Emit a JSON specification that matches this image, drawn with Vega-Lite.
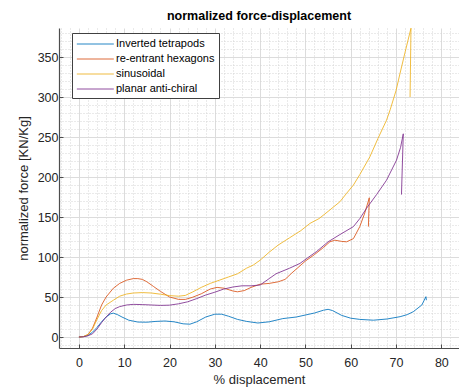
{
  "$schema": "https://vega.github.io/schema/vega-lite/v6.json",
  "width": 400,
  "height": 320,
  "autosize": {"type": "none"},
  "padding": {"left": 59, "top": 28, "right": 0, "bottom": 39},
  "background": "white",
  "title": {"text": "normalized force-displacement", "font": "Liberation Sans", "fontSize": 12.5, "fontWeight": "bold", "color": "#000000", "anchor": "middle", "offset": 6},
  "config": {
    "view": {"stroke": null},
    "font": "Liberation Sans",
    "axis": {"labelFont": "Liberation Sans", "titleFont": "Liberation Sans", "labelColor": "#262626", "titleColor": "#262626", "domainColor": "#4d4d4d", "tickColor": "#4d4d4d", "titleFontWeight": "normal"}
  },
  "data": {"values": [
    {"s":"Inverted tetrapods","i":1,"x":0,"y":0},
    {"s":"Inverted tetrapods","i":2,"x":1,"y":0.5},
    {"s":"Inverted tetrapods","i":3,"x":2,"y":2},
    {"s":"Inverted tetrapods","i":4,"x":3,"y":6},
    {"s":"Inverted tetrapods","i":5,"x":4,"y":12},
    {"s":"Inverted tetrapods","i":6,"x":5,"y":19},
    {"s":"Inverted tetrapods","i":7,"x":6,"y":25},
    {"s":"Inverted tetrapods","i":8,"x":7,"y":29},
    {"s":"Inverted tetrapods","i":9,"x":7.6,"y":29.8},
    {"s":"Inverted tetrapods","i":10,"x":8.5,"y":28},
    {"s":"Inverted tetrapods","i":11,"x":9.5,"y":25},
    {"s":"Inverted tetrapods","i":12,"x":11,"y":21},
    {"s":"Inverted tetrapods","i":13,"x":13,"y":18.7},
    {"s":"Inverted tetrapods","i":14,"x":15,"y":18.5},
    {"s":"Inverted tetrapods","i":15,"x":17,"y":19.5},
    {"s":"Inverted tetrapods","i":16,"x":19,"y":20},
    {"s":"Inverted tetrapods","i":17,"x":21,"y":19},
    {"s":"Inverted tetrapods","i":18,"x":23,"y":16.5},
    {"s":"Inverted tetrapods","i":19,"x":24.5,"y":16},
    {"s":"Inverted tetrapods","i":20,"x":26,"y":19},
    {"s":"Inverted tetrapods","i":21,"x":28,"y":25},
    {"s":"Inverted tetrapods","i":22,"x":30,"y":28.5},
    {"s":"Inverted tetrapods","i":23,"x":31.5,"y":28.5},
    {"s":"Inverted tetrapods","i":24,"x":33,"y":26},
    {"s":"Inverted tetrapods","i":25,"x":35,"y":22},
    {"s":"Inverted tetrapods","i":26,"x":37,"y":19.5},
    {"s":"Inverted tetrapods","i":27,"x":39.5,"y":17.5},
    {"s":"Inverted tetrapods","i":28,"x":42,"y":19},
    {"s":"Inverted tetrapods","i":29,"x":45,"y":23},
    {"s":"Inverted tetrapods","i":30,"x":48,"y":25},
    {"s":"Inverted tetrapods","i":31,"x":50,"y":27.5},
    {"s":"Inverted tetrapods","i":32,"x":52,"y":30},
    {"s":"Inverted tetrapods","i":33,"x":54,"y":33.5},
    {"s":"Inverted tetrapods","i":34,"x":55,"y":34.6},
    {"s":"Inverted tetrapods","i":35,"x":56,"y":33},
    {"s":"Inverted tetrapods","i":36,"x":58,"y":27},
    {"s":"Inverted tetrapods","i":37,"x":60,"y":23.5},
    {"s":"Inverted tetrapods","i":38,"x":62,"y":22},
    {"s":"Inverted tetrapods","i":39,"x":65,"y":21},
    {"s":"Inverted tetrapods","i":40,"x":68,"y":22.5},
    {"s":"Inverted tetrapods","i":41,"x":70.9,"y":25.4},
    {"s":"Inverted tetrapods","i":42,"x":72.5,"y":28},
    {"s":"Inverted tetrapods","i":43,"x":73.8,"y":31.6},
    {"s":"Inverted tetrapods","i":44,"x":75.7,"y":40},
    {"s":"Inverted tetrapods","i":45,"x":76.6,"y":50.4},
    {"s":"Inverted tetrapods","i":46,"x":76.7,"y":46},
    {"s":"re-entrant hexagons","i":1,"x":0,"y":0},
    {"s":"re-entrant hexagons","i":2,"x":1,"y":0.5},
    {"s":"re-entrant hexagons","i":3,"x":2,"y":3},
    {"s":"re-entrant hexagons","i":4,"x":3,"y":11},
    {"s":"re-entrant hexagons","i":5,"x":4,"y":25},
    {"s":"re-entrant hexagons","i":6,"x":5,"y":40},
    {"s":"re-entrant hexagons","i":7,"x":6,"y":50},
    {"s":"re-entrant hexagons","i":8,"x":7.6,"y":61},
    {"s":"re-entrant hexagons","i":9,"x":9,"y":67},
    {"s":"re-entrant hexagons","i":10,"x":10.5,"y":71},
    {"s":"re-entrant hexagons","i":11,"x":12,"y":73},
    {"s":"re-entrant hexagons","i":12,"x":13,"y":73},
    {"s":"re-entrant hexagons","i":13,"x":14,"y":72},
    {"s":"re-entrant hexagons","i":14,"x":15,"y":69},
    {"s":"re-entrant hexagons","i":15,"x":16.5,"y":63},
    {"s":"re-entrant hexagons","i":16,"x":18,"y":57},
    {"s":"re-entrant hexagons","i":17,"x":20,"y":50},
    {"s":"re-entrant hexagons","i":18,"x":22,"y":47},
    {"s":"re-entrant hexagons","i":19,"x":23.5,"y":47},
    {"s":"re-entrant hexagons","i":20,"x":25,"y":49.5},
    {"s":"re-entrant hexagons","i":21,"x":27,"y":54},
    {"s":"re-entrant hexagons","i":22,"x":29,"y":60},
    {"s":"re-entrant hexagons","i":23,"x":30.5,"y":62},
    {"s":"re-entrant hexagons","i":24,"x":32,"y":61},
    {"s":"re-entrant hexagons","i":25,"x":34,"y":57.5},
    {"s":"re-entrant hexagons","i":26,"x":35,"y":56.5},
    {"s":"re-entrant hexagons","i":27,"x":36.5,"y":58},
    {"s":"re-entrant hexagons","i":28,"x":38,"y":62},
    {"s":"re-entrant hexagons","i":29,"x":40,"y":66},
    {"s":"re-entrant hexagons","i":30,"x":42,"y":67},
    {"s":"re-entrant hexagons","i":31,"x":44,"y":69},
    {"s":"re-entrant hexagons","i":32,"x":45.5,"y":72},
    {"s":"re-entrant hexagons","i":33,"x":47,"y":80},
    {"s":"re-entrant hexagons","i":34,"x":50,"y":95},
    {"s":"re-entrant hexagons","i":35,"x":52,"y":103},
    {"s":"re-entrant hexagons","i":36,"x":54,"y":112},
    {"s":"re-entrant hexagons","i":37,"x":55.4,"y":119},
    {"s":"re-entrant hexagons","i":38,"x":56.5,"y":121},
    {"s":"re-entrant hexagons","i":39,"x":58,"y":119.5},
    {"s":"re-entrant hexagons","i":40,"x":59.1,"y":119},
    {"s":"re-entrant hexagons","i":41,"x":60.6,"y":123},
    {"s":"re-entrant hexagons","i":42,"x":62,"y":138},
    {"s":"re-entrant hexagons","i":43,"x":63.1,"y":155},
    {"s":"re-entrant hexagons","i":44,"x":64.1,"y":174},
    {"s":"re-entrant hexagons","i":45,"x":63.9,"y":138},
    {"s":"sinusoidal","i":1,"x":0,"y":0},
    {"s":"sinusoidal","i":2,"x":1,"y":0.5},
    {"s":"sinusoidal","i":3,"x":2,"y":3},
    {"s":"sinusoidal","i":4,"x":3,"y":10},
    {"s":"sinusoidal","i":5,"x":4,"y":22},
    {"s":"sinusoidal","i":6,"x":5,"y":33},
    {"s":"sinusoidal","i":7,"x":6,"y":40},
    {"s":"sinusoidal","i":8,"x":7.6,"y":46},
    {"s":"sinusoidal","i":9,"x":9,"y":51},
    {"s":"sinusoidal","i":10,"x":10.5,"y":53.7},
    {"s":"sinusoidal","i":11,"x":12,"y":55},
    {"s":"sinusoidal","i":12,"x":14,"y":55.5},
    {"s":"sinusoidal","i":13,"x":16,"y":55},
    {"s":"sinusoidal","i":14,"x":18,"y":53.5},
    {"s":"sinusoidal","i":15,"x":20,"y":51.7},
    {"s":"sinusoidal","i":16,"x":22,"y":51},
    {"s":"sinusoidal","i":17,"x":23.5,"y":52},
    {"s":"sinusoidal","i":18,"x":25,"y":56},
    {"s":"sinusoidal","i":19,"x":27,"y":62},
    {"s":"sinusoidal","i":20,"x":29,"y":67},
    {"s":"sinusoidal","i":21,"x":31,"y":71},
    {"s":"sinusoidal","i":22,"x":33,"y":75},
    {"s":"sinusoidal","i":23,"x":35,"y":79},
    {"s":"sinusoidal","i":24,"x":37,"y":86},
    {"s":"sinusoidal","i":25,"x":38.5,"y":90},
    {"s":"sinusoidal","i":26,"x":40,"y":96},
    {"s":"sinusoidal","i":27,"x":42,"y":106},
    {"s":"sinusoidal","i":28,"x":44,"y":115},
    {"s":"sinusoidal","i":29,"x":46.5,"y":124},
    {"s":"sinusoidal","i":30,"x":49,"y":133},
    {"s":"sinusoidal","i":31,"x":51,"y":142},
    {"s":"sinusoidal","i":32,"x":53,"y":148},
    {"s":"sinusoidal","i":33,"x":55,"y":157},
    {"s":"sinusoidal","i":34,"x":57.6,"y":169},
    {"s":"sinusoidal","i":35,"x":59,"y":179},
    {"s":"sinusoidal","i":36,"x":60.6,"y":190},
    {"s":"sinusoidal","i":37,"x":62,"y":203},
    {"s":"sinusoidal","i":38,"x":64.2,"y":225},
    {"s":"sinusoidal","i":39,"x":66,"y":248},
    {"s":"sinusoidal","i":40,"x":67.9,"y":271},
    {"s":"sinusoidal","i":41,"x":68.7,"y":284},
    {"s":"sinusoidal","i":42,"x":70,"y":308},
    {"s":"sinusoidal","i":43,"x":70.9,"y":330},
    {"s":"sinusoidal","i":44,"x":72,"y":356},
    {"s":"sinusoidal","i":45,"x":73.3,"y":386},
    {"s":"sinusoidal","i":46,"x":73.1,"y":300},
    {"s":"planar anti-chiral","i":1,"x":0,"y":0},
    {"s":"planar anti-chiral","i":2,"x":1,"y":0.3},
    {"s":"planar anti-chiral","i":3,"x":2,"y":1.5},
    {"s":"planar anti-chiral","i":4,"x":3,"y":4},
    {"s":"planar anti-chiral","i":5,"x":4,"y":10},
    {"s":"planar anti-chiral","i":6,"x":5,"y":18},
    {"s":"planar anti-chiral","i":7,"x":6,"y":25},
    {"s":"planar anti-chiral","i":8,"x":7,"y":31},
    {"s":"planar anti-chiral","i":9,"x":8,"y":35.5},
    {"s":"planar anti-chiral","i":10,"x":9,"y":38},
    {"s":"planar anti-chiral","i":11,"x":10.5,"y":40},
    {"s":"planar anti-chiral","i":12,"x":12,"y":40.8},
    {"s":"planar anti-chiral","i":13,"x":14,"y":40.5},
    {"s":"planar anti-chiral","i":14,"x":16,"y":40},
    {"s":"planar anti-chiral","i":15,"x":18,"y":39.5},
    {"s":"planar anti-chiral","i":16,"x":20,"y":39.8},
    {"s":"planar anti-chiral","i":17,"x":22,"y":41.5},
    {"s":"planar anti-chiral","i":18,"x":24,"y":44},
    {"s":"planar anti-chiral","i":19,"x":26,"y":48},
    {"s":"planar anti-chiral","i":20,"x":28,"y":52.5},
    {"s":"planar anti-chiral","i":21,"x":30,"y":56},
    {"s":"planar anti-chiral","i":22,"x":32,"y":60},
    {"s":"planar anti-chiral","i":23,"x":34,"y":62.5},
    {"s":"planar anti-chiral","i":24,"x":36,"y":64},
    {"s":"planar anti-chiral","i":25,"x":38,"y":64},
    {"s":"planar anti-chiral","i":26,"x":40,"y":65},
    {"s":"planar anti-chiral","i":27,"x":42,"y":73},
    {"s":"planar anti-chiral","i":28,"x":43.5,"y":79},
    {"s":"planar anti-chiral","i":29,"x":46.5,"y":86},
    {"s":"planar anti-chiral","i":30,"x":48.8,"y":92},
    {"s":"planar anti-chiral","i":31,"x":50.5,"y":99},
    {"s":"planar anti-chiral","i":32,"x":52.5,"y":107},
    {"s":"planar anti-chiral","i":33,"x":55,"y":119},
    {"s":"planar anti-chiral","i":34,"x":57.6,"y":128},
    {"s":"planar anti-chiral","i":35,"x":60.6,"y":138},
    {"s":"planar anti-chiral","i":36,"x":62,"y":148},
    {"s":"planar anti-chiral","i":37,"x":63.5,"y":161},
    {"s":"planar anti-chiral","i":38,"x":65.7,"y":178},
    {"s":"planar anti-chiral","i":39,"x":67.9,"y":196},
    {"s":"planar anti-chiral","i":40,"x":70.1,"y":221},
    {"s":"planar anti-chiral","i":41,"x":71,"y":237},
    {"s":"planar anti-chiral","i":42,"x":71.6,"y":254},
    {"s":"planar anti-chiral","i":43,"x":71.2,"y":178}
  ]},
  "resolve": {"axis": {"x": "independent", "y": "independent"}},
  "layer": [
    {
      "mark": {"type": "line", "opacity": 0},
      "encoding": {
        "x": {"field": "x", "type": "quantitative", "scale": {"domain": [-4.4, 83.9], "nice": false, "zero": false},
              "axis": {"orient": "bottom", "values": [-4,-2,2,4,6,8,12,14,16,18,22,24,26,28,32,34,36,38,42,44,46,48,52,54,56,58,62,64,66,68,72,74,76,78,82], "labels": false, "ticks": false, "domain": false, "title": null, "grid": true, "gridColor": "#d4d4d4", "gridDash": [1, 2], "gridWidth": 1}},
        "y": {"field": "y", "type": "quantitative", "scale": {"domain": [-13.75, 386.25], "nice": false, "zero": false},
              "axis": {"orient": "left", "values": [-10,10,20,30,40,60,70,80,90,110,120,130,140,160,170,180,190,210,220,230,240,260,270,280,290,310,320,330,340,360,370,380], "labels": false, "ticks": false, "domain": false, "title": null, "grid": true, "gridColor": "#d4d4d4", "gridDash": [1, 2], "gridWidth": 1}},
        "detail": {"field": "s"},
        "order": {"field": "i", "type": "quantitative"}
      }
    },
    {
      "mark": {"type": "line", "strokeWidth": 1, "opacity": 0.85, "clip": true},
      "encoding": {
        "x": {"field": "x", "type": "quantitative", "scale": {"domain": [-4.4, 83.9], "nice": false, "zero": false},
              "axis": {"orient": "bottom", "values": [0,10,20,30,40,50,60,70,80], "title": "% displacement", "titleFontSize": 13, "titlePadding": 5, "labelFontSize": 12.5, "labelPadding": 12, "tickSize": -4, "grid": true, "gridColor": "#dcdcdc", "gridWidth": 1, "domainWidth": 1.2}},
        "y": {"field": "y", "type": "quantitative", "scale": {"domain": [-13.75, 386.25], "nice": false, "zero": false},
              "axis": {"orient": "left", "values": [0,50,100,150,200,250,300,350], "title": "normalized force [KN/Kg]", "titleFontSize": 13, "titlePadding": 7, "labelFontSize": 12.5, "labelPadding": 5, "tickSize": -4, "grid": true, "gridColor": "#dcdcdc", "gridWidth": 1, "domainWidth": 1.2}},
        "color": {"field": "s", "type": "nominal",
                  "scale": {"domain": ["Inverted tetrapods", "re-entrant hexagons", "sinusoidal", "planar anti-chiral"], "range": ["#0072BD", "#D95319", "#EDB120", "#7E2F8E"]},
                  "legend": {"title": null, "orient": "none", "legendX": 13, "legendY": 5, "symbolType": "M-1,0H5", "symbolSize": 152, "symbolStrokeWidth": 1, "symbolFillColor": "transparent", "labelFontSize": 11, "labelFont": "Liberation Sans", "labelColor": "#000000", "strokeColor": "#404040", "fillColor": "white", "padding": 4, "rowPadding": 3, "labelOffset": 26, "symbolOpacity": 0.85}},
        "order": {"field": "i", "type": "quantitative"}
      }
    }
  ]
}
